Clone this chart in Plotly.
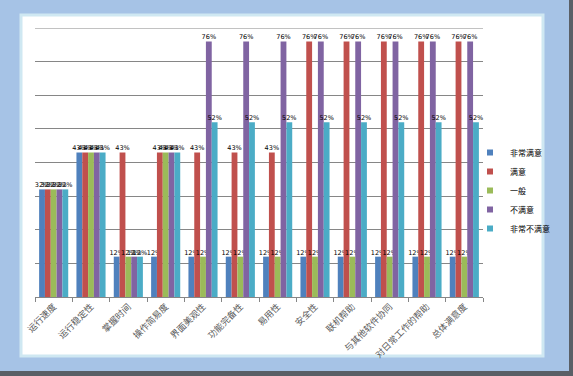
import plotly.graph_objects as go

categories = ["运行速度", "运行稳定性", "掌握时间", "操作简易度", "界面美观性", "功能完备性",
              "易用性", "安全性", "联机帮助", "与其他软件协同", "对日常工作的帮助", "总体满意度"]
series_names = ["非常满意", "满意", "一般", "不满意", "非常不满意"]
very_satisfied = [0.32, 0.43, 0.12, 0.12, 0.12, 0.12, 0.12, 0.12, 0.12, 0.12, 0.12, 0.12]
satisfied = [0.32, 0.43, 0.43, 0.43, 0.43, 0.43, 0.43, 0.76, 0.76, 0.76, 0.76, 0.76]
neutral = [0.32, 0.43, 0.12, 0.43, 0.12, 0.12, 0.12, 0.12, 0.12, 0.12, 0.12, 0.12]
unsatisfied = [0.32, 0.43, 0.12, 0.43, 0.76, 0.76, 0.76, 0.76, 0.76, 0.76, 0.76, 0.76]
very_unsatisfied = [0.32, 0.43, 0.12, 0.43, 0.52, 0.52, 0.52, 0.52, 0.52, 0.52, 0.52, 0.52]
series_values = [very_satisfied, satisfied, neutral, unsatisfied, very_unsatisfied]
colors = ["#4F81BD", "#C0504D", "#9BBB59", "#8064A2", "#4BACC6"]

fig = go.Figure()
for name, vals, c in zip(series_names, series_values, colors):
    fig.add_trace(go.Bar(
        x=categories, y=vals, name=name, marker_color=c, marker_line_width=0,
        texttemplate="%{y:.0%}", textposition="outside", textangle=0,
        constraintext="none", cliponaxis=False, showlegend=False, legendgroup=name,
        textfont=dict(size=6.5, color="#000000", family="DejaVu Sans"),
    ))
# legend entries with small square swatches
for name, c in zip(series_names, colors):
    fig.add_trace(go.Scatter(
        x=[categories[0]], y=[None], mode="markers", name=name, legendgroup=name,
        marker=dict(symbol="square", size=6, color=c), hoverinfo="skip",
    ))

# plot area in pixels: x 35..483, y 28..297
L, R, T, B = 35, 483, 28, 297
W, H = R - L, B - T
def px(x):
    return (x - L) / W
def py(y):
    return (B - y) / H

shapes = [
    # white chart panel with light cyan frame
    dict(type="rect", xref="paper", yref="paper", layer="below",
         x0=px(21), x1=px(543), y0=py(356), y1=py(15),
         fillcolor="#ffffff", line=dict(color="#cfe8f2", width=3)),
    # window shadow edges
    dict(type="rect", xref="paper", yref="paper", layer="below",
         x0=px(569), x1=px(574), y0=py(377), y1=py(-2),
         fillcolor="#5a5f66", line=dict(width=0)),
    dict(type="rect", xref="paper", yref="paper", layer="below",
         x0=px(-2), x1=px(574), y0=py(377), y1=py(371),
         fillcolor="#5a5f66", line=dict(width=0)),
    # top gridline
    dict(type="line", xref="paper", yref="y", x0=0, x1=1, y0=0.8, y1=0.8,
         line=dict(color="#868686", width=1)),
]

fig.update_layout(
    width=573, height=376,
    margin=dict(l=L, r=573 - R, t=T, b=376 - B, pad=0, autoexpand=False),
    paper_bgcolor="#a6c3e6", plot_bgcolor="#ffffff",
    barmode="group", bargap=0.22, bargroupgap=0,
    showlegend=True,
    legend=dict(x=px(470), y=py(138), xanchor="left", yanchor="top",
                font=dict(size=8, family="Noto Sans CJK SC", color="#000000"),
                bgcolor="rgba(0,0,0,0)", itemwidth=30, tracegroupgap=0),
    shapes=shapes,
    font=dict(family="Noto Sans CJK SC"),
)
fig.update_yaxes(range=[0, 0.8], dtick=0.1, showticklabels=False, automargin=False,
                 showgrid=True, gridcolor="#868686", gridwidth=1,
                 zeroline=False, showline=False, ticks="")
fig.update_xaxes(range=[-0.5, len(categories) - 0.5], tickangle=-45, automargin=False,
                 tickfont=dict(size=9, color="#595959", family="Noto Sans CJK SC"),
                 showline=True, linecolor="#868686", linewidth=1,
                 ticks="outside", ticklen=4, tickcolor="#868686",
                 tickson="boundaries", showgrid=False)

fig.write_html("out.html", config={"displayModeBar": False},
               post_script="document.body.style.margin='0';document.body.style.overflow='hidden';")
